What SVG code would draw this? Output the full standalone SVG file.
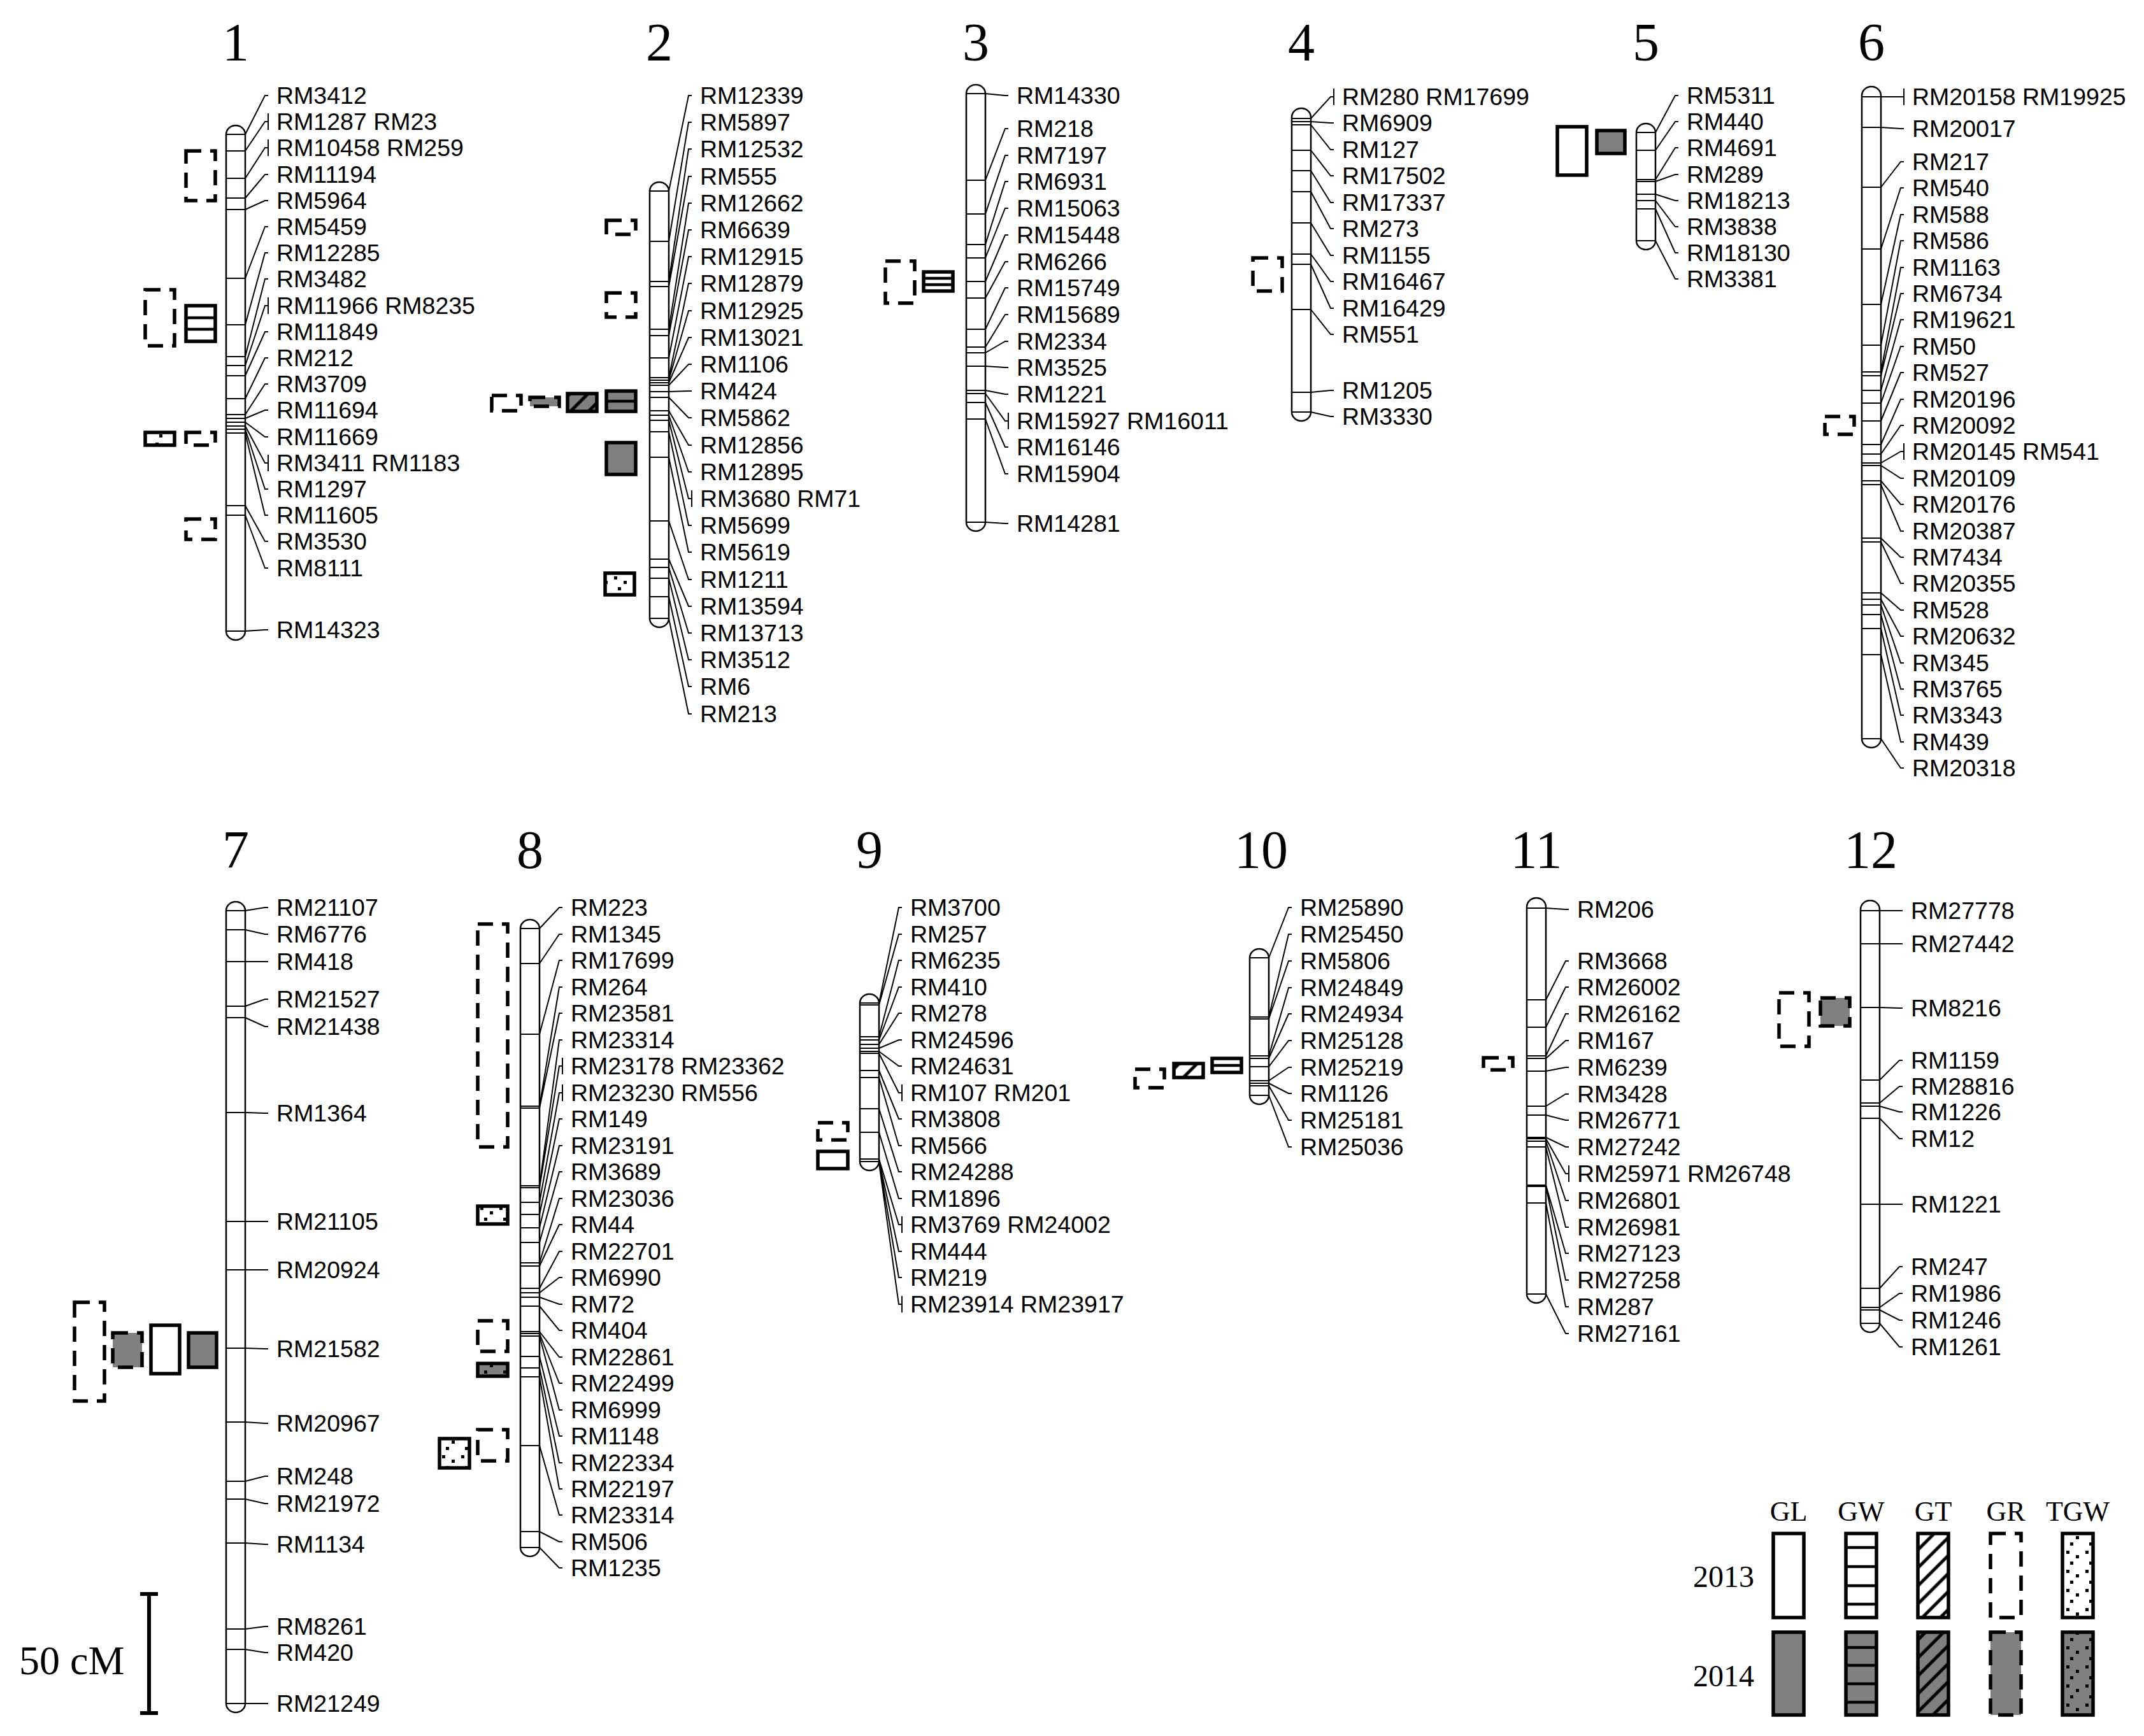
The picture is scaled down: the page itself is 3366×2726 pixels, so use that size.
<svg xmlns="http://www.w3.org/2000/svg" width="3366" height="2726" viewBox="0 0 3366 2726">
<style>
.bar{fill:#fff;stroke:#000;stroke-width:2.5}
.mk{stroke:#000;stroke-width:2;fill:none}
.ld{stroke:#000;stroke-width:2;fill:none}
.lab{font-family:"Liberation Sans",Arial,sans-serif;font-size:37.5px;fill:#000}
.ttl{font-family:"Liberation Serif","Times New Roman",serif;font-size:84px;text-anchor:middle;fill:#000}
.lg{font-family:"Liberation Serif","Times New Roman",serif;font-size:44px;text-anchor:middle;fill:#000}
.yr{font-family:"Liberation Serif","Times New Roman",serif;font-size:48px;text-anchor:end;fill:#000}
.q{stroke:#000;stroke-width:5.5}
.w{fill:#fff}
.g{fill:#808080}
.d{stroke-dasharray:24 14}
.gl{stroke:#000;stroke-width:4.5}
</style>
<defs>
<pattern id="hw" patternUnits="userSpaceOnUse" width="20" height="20" patternTransform="rotate(45)"><rect width="20" height="20" fill="#fff"/><line x1="10" y1="0" x2="10" y2="20" stroke="#000" stroke-width="5"/></pattern>
<pattern id="hg" patternUnits="userSpaceOnUse" width="20" height="20" patternTransform="rotate(45)"><rect width="20" height="20" fill="#808080"/><line x1="10" y1="0" x2="10" y2="20" stroke="#000" stroke-width="5"/></pattern>
<pattern id="dw" patternUnits="userSpaceOnUse" width="30" height="30"><rect width="30" height="30" fill="#fff"/><rect x="4" y="5" width="5" height="5"/><rect x="19" y="12" width="5" height="5"/><rect x="10" y="22" width="5" height="5"/></pattern>
<pattern id="dg" patternUnits="userSpaceOnUse" width="30" height="30"><rect width="30" height="30" fill="#808080"/><rect x="4" y="5" width="5" height="5"/><rect x="19" y="12" width="5" height="5"/><rect x="10" y="22" width="5" height="5"/></pattern>
</defs>
<rect width="3366" height="2726" fill="#fff"/>

<g id="titles">
<text class="ttl" x="370" y="95">1</text>
<text class="ttl" x="1035" y="95">2</text>
<text class="ttl" x="1532" y="95">3</text>
<text class="ttl" x="2043" y="95">4</text>
<text class="ttl" x="2584" y="95">5</text>
<text class="ttl" x="2938" y="95">6</text>
<text class="ttl" x="370" y="1363">7</text>
<text class="ttl" x="832" y="1363">8</text>
<text class="ttl" x="1365" y="1363">9</text>
<text class="ttl" x="1980" y="1363">10</text>
<text class="ttl" x="2412" y="1363">11</text>
<text class="ttl" x="2937" y="1363">12</text>
</g>

<g id="chr1">
<path class="bar" d="M355,211V991A15,14 0 0 0 385,991V211A15,14 0 0 0 355,211Z"/>
<path class="mk" d="M355,211H385M355,237H385M355,280H385M355,311H385M355,329H385M355,437H385M355,510H385M355,560H385M355,574H385M355,590H385M355,626H385M355,651H385M355,657H385M355,663H385M355,669H385M355,674H385M355,680H385M355,794H385M355,809H385M355,991H385"/>
<g class="lab">
<text x="434" y="163">RM3412</text><text x="434" y="204">RM1287 RM23</text><text x="434" y="245">RM10458 RM259</text><text x="434" y="287">RM11194</text><text x="434" y="328">RM5964</text><text x="434" y="369">RM5459</text><text x="434" y="410">RM12285</text><text x="434" y="451">RM3482</text><text x="434" y="493">RM11966 RM8235</text><text x="434" y="534">RM11849</text><text x="434" y="575">RM212</text><text x="434" y="616">RM3709</text><text x="434" y="657">RM11694</text><text x="434" y="699">RM11669</text><text x="434" y="740">RM3411 RM1183</text><text x="434" y="781">RM1297</text><text x="434" y="822">RM11605</text><text x="434" y="863">RM3530</text><text x="434" y="905">RM8111</text><text x="434" y="1002">RM14323</text>
</g>
<rect class="q d w" x="292" y="237" width="46" height="78"/>
<rect class="q d w" x="228" y="455" width="46" height="88"/>
<rect class="q w" x="292" y="480" width="46" height="56"/>
<path class="gl" d="M292,499H338M292,517H338"/>
<rect class="q" fill="url(#dw)" x="228" y="679" width="46" height="20"/>
<rect class="q d w" x="292" y="679" width="46" height="20"/>
<rect class="q d w" x="292" y="815" width="46" height="32"/>
</g>

<g id="chr2">
<path class="bar" d="M1020,300V971A15,14 0 0 0 1050,971V300A15,14 0 0 0 1020,300Z"/>
<path class="mk" d="M1020,300H1050M1020,379H1050M1020,442H1050M1020,450H1050M1020,517H1050M1020,527H1050M1020,562H1050M1020,593H1050M1020,597H1050M1020,601H1050M1020,605H1050M1020,615H1050M1020,624H1050M1020,645H1050M1020,652H1050M1020,660H1050M1020,678H1050M1020,718H1050M1020,818H1050M1020,878H1050M1020,891H1050M1020,908H1050M1020,937H1050M1020,971H1050"/>
<g class="lab">
<text x="1099" y="163">RM12339</text><text x="1099" y="205">RM5897</text><text x="1099" y="247">RM12532</text><text x="1099" y="290">RM555</text><text x="1099" y="332">RM12662</text><text x="1099" y="374">RM6639</text><text x="1099" y="416">RM12915</text><text x="1099" y="458">RM12879</text><text x="1099" y="501">RM12925</text><text x="1099" y="543">RM13021</text><text x="1099" y="585">RM1106</text><text x="1099" y="627">RM424</text><text x="1099" y="669">RM5862</text><text x="1099" y="712">RM12856</text><text x="1099" y="754">RM12895</text><text x="1099" y="796">RM3680 RM71</text><text x="1099" y="838">RM5699</text><text x="1099" y="880">RM5619</text><text x="1099" y="923">RM1211</text><text x="1099" y="965">RM13594</text><text x="1099" y="1007">RM13713</text><text x="1099" y="1049">RM3512</text><text x="1099" y="1091">RM6</text><text x="1099" y="1134">RM213</text>
</g>
<rect class="q d w" x="952" y="346" width="46" height="22"/>
<rect class="q d w" x="952" y="460" width="46" height="38"/>
<rect class="q d w" x="772" y="621" width="46" height="24"/>
<rect class="q d g" x="832" y="624" width="46" height="14"/>
<rect class="q" fill="url(#hg)" x="891" y="618" width="46" height="28"/>
<rect class="q g" x="952" y="614" width="46" height="32"/>
<path class="gl" d="M952,630H998"/>
<rect class="q g" x="952" y="695" width="46" height="50"/>
<rect class="q" fill="url(#dw)" x="950" y="900" width="46" height="34"/>
</g>

<g id="chr3">
<path class="bar" d="M1517,147V820A15,14 0 0 0 1547,820V147A15,14 0 0 0 1517,147Z"/>
<path class="mk" d="M1517,147H1547M1517,283H1547M1517,336H1547M1517,384H1547M1517,405H1547M1517,442H1547M1517,468H1547M1517,517H1547M1517,545H1547M1517,554H1547M1517,575H1547M1517,613H1547M1517,618H1547M1517,632H1547M1517,658H1547M1517,820H1547"/>
<g class="lab">
<text x="1596" y="163">RM14330</text><text x="1596" y="215">RM218</text><text x="1596" y="257">RM7197</text><text x="1596" y="298">RM6931</text><text x="1596" y="340">RM15063</text><text x="1596" y="382">RM15448</text><text x="1596" y="424">RM6266</text><text x="1596" y="465">RM15749</text><text x="1596" y="507">RM15689</text><text x="1596" y="549">RM2334</text><text x="1596" y="590">RM3525</text><text x="1596" y="632">RM1221</text><text x="1596" y="674">RM15927 RM16011</text><text x="1596" y="715">RM16146</text><text x="1596" y="757">RM15904</text><text x="1596" y="835">RM14281</text>
</g>
<rect class="q d w" x="1390" y="410" width="46" height="66"/>
<rect class="q w" x="1450" y="427" width="46" height="30"/>
<path class="gl" d="M1450,437H1496M1450,447H1496"/>
</g>

<g id="chr4">
<path class="bar" d="M2028,184V647A15,14 0 0 0 2058,647V184A15,14 0 0 0 2028,184Z"/>
<path class="mk" d="M2028,186H2058M2028,191H2058M2028,196H2058M2028,236H2058M2028,268H2058M2028,301H2058M2028,350H2058M2028,399H2058M2028,415H2058M2028,486H2058M2028,616H2058M2028,647H2058"/>
<g class="lab">
<text x="2107" y="165">RM280 RM17699</text><text x="2107" y="206">RM6909</text><text x="2107" y="248">RM127</text><text x="2107" y="289">RM17502</text><text x="2107" y="331">RM17337</text><text x="2107" y="372">RM273</text><text x="2107" y="414">RM1155</text><text x="2107" y="455">RM16467</text><text x="2107" y="497">RM16429</text><text x="2107" y="538">RM551</text><text x="2107" y="626">RM1205</text><text x="2107" y="667">RM3330</text>
</g>
<rect class="q d w" x="1967" y="405" width="46" height="52"/>
</g>

<g id="chr5">
<path class="bar" d="M2569,208V378A15,14 0 0 0 2599,378V208A15,14 0 0 0 2569,208Z"/>
<path class="mk" d="M2569,208H2599M2569,236H2599M2569,282H2599M2569,285H2599M2569,305H2599M2569,315H2599M2569,328H2599M2569,378H2599"/>
<g class="lab">
<text x="2648" y="163">RM5311</text><text x="2648" y="204">RM440</text><text x="2648" y="245">RM4691</text><text x="2648" y="287">RM289</text><text x="2648" y="328">RM18213</text><text x="2648" y="369">RM3838</text><text x="2648" y="410">RM18130</text><text x="2648" y="451">RM3381</text>
</g>
<rect class="q w" x="2445" y="199" width="46" height="76"/>
<rect class="q g" x="2507" y="205" width="44" height="36"/>
</g>

<g id="chr6">
<path class="bar" d="M2923,150V1160A15,14 0 0 0 2953,1160V150A15,14 0 0 0 2923,150Z"/>
<path class="mk" d="M2923,152H2953M2923,200H2953M2923,294H2953M2923,391H2953M2923,478H2953M2923,542H2953M2923,584H2953M2923,590H2953M2923,613H2953M2923,633H2953M2923,661H2953M2923,698H2953M2923,713H2953M2923,727H2953M2923,731H2953M2923,755H2953M2923,761H2953M2923,845H2953M2923,851H2953M2923,931H2953M2923,941H2953M2923,950H2953M2923,965H2953M2923,987H2953M2923,1028H2953M2923,1160H2953"/>
<g class="lab">
<text x="3002" y="165">RM20158 RM19925</text><text x="3002" y="215">RM20017</text><text x="3002" y="267">RM217</text><text x="3002" y="308">RM540</text><text x="3002" y="350">RM588</text><text x="3002" y="391">RM586</text><text x="3002" y="433">RM1163</text><text x="3002" y="474">RM6734</text><text x="3002" y="515">RM19621</text><text x="3002" y="557">RM50</text><text x="3002" y="598">RM527</text><text x="3002" y="640">RM20196</text><text x="3002" y="681">RM20092</text><text x="3002" y="722">RM20145 RM541</text><text x="3002" y="764">RM20109</text><text x="3002" y="805">RM20176</text><text x="3002" y="847">RM20387</text><text x="3002" y="888">RM7434</text><text x="3002" y="929">RM20355</text><text x="3002" y="971">RM528</text><text x="3002" y="1012">RM20632</text><text x="3002" y="1054">RM345</text><text x="3002" y="1095">RM3765</text><text x="3002" y="1136">RM3343</text><text x="3002" y="1178">RM439</text><text x="3002" y="1219">RM20318</text>
</g>
<rect class="q d w" x="2865" y="654" width="46" height="28"/>
</g>

<g id="chr7">
<path class="bar" d="M355,1430V2675A15,14 0 0 0 385,2675V1430A15,14 0 0 0 355,1430Z"/>
<path class="mk" d="M355,1430H385M355,1460H385M355,1510H385M355,1580H385M355,1598H385M355,1747H385M355,1918H385M355,1994H385M355,2117H385M355,2233H385M355,2326H385M355,2354H385M355,2423H385M355,2558H385M355,2590H385M355,2675H385"/>
<g class="lab">
<text x="434" y="1438">RM21107</text><text x="434" y="1480">RM6776</text><text x="434" y="1523">RM418</text><text x="434" y="1582">RM21527</text><text x="434" y="1625">RM21438</text><text x="434" y="1761">RM1364</text><text x="434" y="1931">RM21105</text><text x="434" y="2007">RM20924</text><text x="434" y="2131">RM21582</text><text x="434" y="2248">RM20967</text><text x="434" y="2331">RM248</text><text x="434" y="2374">RM21972</text><text x="434" y="2438">RM1134</text><text x="434" y="2567">RM8261</text><text x="434" y="2608">RM420</text><text x="434" y="2688">RM21249</text>
</g>
<rect class="q d w" x="117" y="2045" width="47" height="155"/>
<rect class="q d g" x="177" y="2093" width="46" height="54"/>
<rect class="q w" x="237" y="2081" width="45" height="76"/>
<rect class="q g" x="296" y="2093" width="44" height="54"/>
</g>

<g id="chr8">
<path class="bar" d="M817,1458V2430A15,14 0 0 0 847,2430V1458A15,14 0 0 0 817,1458Z"/>
<path class="mk" d="M817,1458H847M817,1513H847M817,1624H847M817,1737H847M817,1740H847M817,1862H847M817,1865H847M817,1888H847M817,1907H847M817,1928H847M817,1951H847M817,1983H847M817,1988H847M817,2023H847M817,2030H847M817,2037H847M817,2051H847M817,2091H847M817,2094H847M817,2098H847M817,2130H847M817,2148H847M817,2162H847M817,2270H847M817,2405H847M817,2430H847"/>
<g class="lab">
<text x="896" y="1438">RM223</text><text x="896" y="1480">RM1345</text><text x="896" y="1521">RM17699</text><text x="896" y="1563">RM264</text><text x="896" y="1604">RM23581</text><text x="896" y="1646">RM23314</text><text x="896" y="1687">RM23178 RM23362</text><text x="896" y="1729">RM23230 RM556</text><text x="896" y="1770">RM149</text><text x="896" y="1812">RM23191</text><text x="896" y="1853">RM3689</text><text x="896" y="1895">RM23036</text><text x="896" y="1936">RM44</text><text x="896" y="1978">RM22701</text><text x="896" y="2019">RM6990</text><text x="896" y="2061">RM72</text><text x="896" y="2102">RM404</text><text x="896" y="2144">RM22861</text><text x="896" y="2185">RM22499</text><text x="896" y="2227">RM6999</text><text x="896" y="2268">RM1148</text><text x="896" y="2310">RM22334</text><text x="896" y="2351">RM22197</text><text x="896" y="2392">RM23314</text><text x="896" y="2434">RM506</text><text x="896" y="2475">RM1235</text>
</g>
<rect class="q d w" x="750" y="1451" width="47" height="350"/>
<rect class="q" fill="url(#dw)" x="750" y="1894" width="47" height="28"/>
<rect class="q d w" x="750" y="2074" width="47" height="48"/>
<rect class="q" fill="url(#dg)" x="750" y="2141" width="47" height="20"/>
<rect class="q" fill="url(#dw)" x="690" y="2259" width="47" height="46"/>
<rect class="q d w" x="750" y="2245" width="47" height="49"/>
</g>

<g id="chr9">
<path class="bar" d="M1350,1575V1824A15,14 0 0 0 1380,1824V1575A15,14 0 0 0 1350,1575Z"/>
<path class="mk" d="M1350,1575H1380M1350,1578H1380M1350,1628H1380M1350,1633H1380M1350,1640H1380M1350,1646H1380M1350,1651H1380M1350,1654H1380M1350,1681H1380M1350,1692H1380M1350,1741H1380M1350,1778H1380M1350,1820H1380M1350,1824H1380"/>
<g class="lab">
<text x="1429" y="1438">RM3700</text><text x="1429" y="1480">RM257</text><text x="1429" y="1521">RM6235</text><text x="1429" y="1563">RM410</text><text x="1429" y="1604">RM278</text><text x="1429" y="1646">RM24596</text><text x="1429" y="1687">RM24631</text><text x="1429" y="1729">RM107 RM201</text><text x="1429" y="1770">RM3808</text><text x="1429" y="1812">RM566</text><text x="1429" y="1853">RM24288</text><text x="1429" y="1895">RM1896</text><text x="1429" y="1936">RM3769 RM24002</text><text x="1429" y="1978">RM444</text><text x="1429" y="2019">RM219</text><text x="1429" y="2061">RM23914 RM23917</text>
</g>
<rect class="q d w" x="1284" y="1763" width="47" height="27"/>
<rect class="q w" x="1284" y="1808" width="47" height="27"/>
</g>

<g id="chr10">
<path class="bar" d="M1962,1504V1720A15,14 0 0 0 1992,1720V1504A15,14 0 0 0 1962,1504Z"/>
<path class="mk" d="M1962,1504H1992M1962,1597H1992M1962,1600H1992M1962,1658H1992M1962,1662H1992M1962,1675H1992M1962,1697H1992M1962,1701H1992M1962,1705H1992M1962,1720H1992"/>
<g class="lab">
<text x="2041" y="1438">RM25890</text><text x="2041" y="1480">RM25450</text><text x="2041" y="1522">RM5806</text><text x="2041" y="1564">RM24849</text><text x="2041" y="1605">RM24934</text><text x="2041" y="1647">RM25128</text><text x="2041" y="1689">RM25219</text><text x="2041" y="1730">RM1126</text><text x="2041" y="1772">RM25181</text><text x="2041" y="1814">RM25036</text>
</g>
<rect class="q d w" x="1782" y="1679" width="46" height="29"/>
<rect class="q" fill="url(#hw)" x="1843" y="1670" width="46" height="22"/>
<rect class="q w" x="1903" y="1662" width="46" height="22"/>
<path class="gl" d="M1903,1673H1949"/>
</g>

<g id="chr11">
<path class="bar" d="M2397,1424V2032A15,14 0 0 0 2427,2032V1424A15,14 0 0 0 2397,1424Z"/>
<path class="mk" d="M2397,1426H2427M2397,1570H2427M2397,1613H2427M2397,1658H2427M2397,1662H2427M2397,1682H2427M2397,1737H2427M2397,1751H2427M2397,1786H2427M2397,1788H2427M2397,1792H2427M2397,1801H2427M2397,1861H2427M2397,1863H2427M2397,1889H2427M2397,2032H2427"/>
<g class="lab">
<text x="2476" y="1441">RM206</text><text x="2476" y="1522">RM3668</text><text x="2476" y="1563">RM26002</text><text x="2476" y="1605">RM26162</text><text x="2476" y="1647">RM167</text><text x="2476" y="1689">RM6239</text><text x="2476" y="1731">RM3428</text><text x="2476" y="1772">RM26771</text><text x="2476" y="1814">RM27242</text><text x="2476" y="1856">RM25971 RM26748</text><text x="2476" y="1898">RM26801</text><text x="2476" y="1940">RM26981</text><text x="2476" y="1981">RM27123</text><text x="2476" y="2023">RM27258</text><text x="2476" y="2065">RM287</text><text x="2476" y="2107">RM27161</text>
</g>
<rect class="q d w" x="2329" y="1661" width="46" height="19"/>
</g>

<g id="chr12">
<path class="bar" d="M2921,1428V2078A15,14 0 0 0 2951,2078V1428A15,14 0 0 0 2921,1428Z"/>
<path class="mk" d="M2921,1430H2951M2921,1482H2951M2921,1582H2951M2921,1696H2951M2921,1732H2951M2921,1737H2951M2921,1756H2951M2921,1891H2951M2921,2023H2951M2921,2053H2951M2921,2057H2951M2921,2078H2951"/>
<g class="lab">
<text x="3000" y="1443">RM27778</text><text x="3000" y="1495">RM27442</text><text x="3000" y="1596">RM8216</text><text x="3000" y="1678">RM1159</text><text x="3000" y="1719">RM28816</text><text x="3000" y="1759">RM1226</text><text x="3000" y="1801">RM12</text><text x="3000" y="1904">RM1221</text><text x="3000" y="2002">RM247</text><text x="3000" y="2044">RM1986</text><text x="3000" y="2086">RM1246</text><text x="3000" y="2128">RM1261</text>
</g>
<rect class="q d w" x="2793" y="1559" width="47" height="84"/>
<rect class="q d g" x="2858" y="1567" width="46" height="44"/>
</g>

<g id="connectors">
<path class="ld" d="M385,211L416,150H421M385,237L416,191H421M385,280L416,232H421M385,311L416,274H421M385,329L416,315H421M385,437L416,356H421M385,510L416,397H421M385,560L416,438H421M385,574L416,480H421M385,590L416,521H421M385,626L416,562H421M385,651L416,603H421M385,657L416,644H421M385,663L416,686H421M385,669L416,727H421M385,674L416,768H421M385,680L416,809H421M385,794L416,850H421M385,809L416,892H421M385,991L416,989H421M421,178V204M421,219V245M421,467V493M421,714V740"/>
<path class="ld" d="M1050,300L1081,150H1086M1050,379L1081,192H1086M1050,442L1081,234H1086M1050,450L1081,277H1086M1050,517L1081,319H1086M1050,527L1081,361H1086M1050,562L1081,403H1086M1050,593L1081,445H1086M1050,597L1081,488H1086M1050,601L1081,530H1086M1050,605L1081,572H1086M1050,615L1081,614H1086M1050,624L1081,656H1086M1050,645L1081,699H1086M1050,652L1081,741H1086M1050,660L1081,783H1086M1050,678L1081,825H1086M1050,718L1081,867H1086M1050,818L1081,910H1086M1050,878L1081,952H1086M1050,891L1081,994H1086M1050,908L1081,1036H1086M1050,937L1081,1078H1086M1050,971L1081,1121H1086M1086,770V796"/>
<path class="ld" d="M1547,147L1578,150H1583M1547,283L1578,202H1583M1547,336L1578,244H1583M1547,384L1578,285H1583M1547,405L1578,327H1583M1547,442L1578,369H1583M1547,468L1578,411H1583M1547,517L1578,452H1583M1547,545L1578,494H1583M1547,554L1578,536H1583M1547,575L1578,577H1583M1547,613L1578,619H1583M1547,618L1578,661H1583M1547,632L1578,702H1583M1547,658L1578,744H1583M1547,820L1578,822H1583M1583,648V674"/>
<path class="ld" d="M2058,186L2089,152H2094M2058,191L2089,193H2094M2058,196L2089,235H2094M2058,236L2089,276H2094M2058,268L2089,318H2094M2058,301L2089,359H2094M2058,350L2089,401H2094M2058,399L2089,442H2094M2058,415L2089,484H2094M2058,486L2089,525H2094M2058,616L2089,613H2094M2058,647L2089,654H2094M2094,139V165"/>
<path class="ld" d="M2599,208L2630,150H2635M2599,236L2630,191H2635M2599,282L2630,232H2635M2599,285L2630,274H2635M2599,305L2630,315H2635M2599,315L2630,356H2635M2599,328L2630,397H2635M2599,378L2630,438H2635"/>
<path class="ld" d="M2953,152L2984,152H2989M2953,200L2984,202H2989M2953,294L2984,254H2989M2953,391L2984,295H2989M2953,478L2984,337H2989M2953,542L2984,378H2989M2953,584L2984,420H2989M2953,590L2984,461H2989M2953,613L2984,502H2989M2953,633L2984,544H2989M2953,661L2984,585H2989M2953,698L2984,627H2989M2953,713L2984,668H2989M2953,727L2984,709H2989M2953,731L2984,751H2989M2953,755L2984,792H2989M2953,761L2984,834H2989M2953,845L2984,875H2989M2953,851L2984,916H2989M2953,931L2984,958H2989M2953,941L2984,999H2989M2953,950L2984,1041H2989M2953,965L2984,1082H2989M2953,987L2984,1123H2989M2953,1028L2984,1165H2989M2953,1160L2984,1206H2989M2989,139V165M2989,696V722"/>
<path class="ld" d="M385,1430L416,1425H421M385,1460L416,1467H421M385,1510L416,1510H421M385,1580L416,1569H421M385,1598L416,1612H421M385,1747L416,1748H421M385,1918L416,1918H421M385,1994L416,1994H421M385,2117L416,2118H421M385,2233L416,2235H421M385,2326L416,2318H421M385,2354L416,2361H421M385,2423L416,2425H421M385,2558L416,2554H421M385,2590L416,2595H421M385,2675L416,2675H421"/>
<path class="ld" d="M847,1458L878,1425H883M847,1513L878,1467H883M847,1624L878,1508H883M847,1737L878,1550H883M847,1740L878,1591H883M847,1862L878,1633H883M847,1865L878,1674H883M847,1888L878,1716H883M847,1907L878,1757H883M847,1928L878,1799H883M847,1951L878,1840H883M847,1983L878,1882H883M847,1988L878,1923H883M847,2023L878,1965H883M847,2030L878,2006H883M847,2037L878,2048H883M847,2051L878,2089H883M847,2091L878,2131H883M847,2094L878,2172H883M847,2098L878,2214H883M847,2130L878,2255H883M847,2148L878,2297H883M847,2162L878,2338H883M847,2270L878,2379H883M847,2405L878,2421H883M847,2430L878,2462H883M883,1661V1687M883,1703V1729"/>
<path class="ld" d="M1380,1575L1411,1425H1416M1380,1578L1411,1467H1416M1380,1628L1411,1508H1416M1380,1633L1411,1550H1416M1380,1640L1411,1591H1416M1380,1646L1411,1633H1416M1380,1651L1411,1674H1416M1380,1654L1411,1716H1416M1380,1681L1411,1757H1416M1380,1692L1411,1799H1416M1380,1741L1411,1840H1416M1380,1778L1411,1882H1416M1380,1820L1411,1923H1416M1380,1822L1411,1965H1416M1380,1824L1411,2006H1416M1380,1826L1411,2048H1416M1416,1703V1729M1416,1910V1936M1416,2035V2061"/>
<path class="ld" d="M1992,1504L2023,1425H2028M1992,1597L2023,1467H2028M1992,1600L2023,1509H2028M1992,1658L2023,1551H2028M1992,1662L2023,1592H2028M1992,1675L2023,1634H2028M1992,1697L2023,1676H2028M1992,1701L2023,1717H2028M1992,1705L2023,1759H2028M1992,1720L2023,1801H2028"/>
<path class="ld" d="M2427,1426L2458,1428H2463M2427,1570L2458,1509H2463M2427,1613L2458,1550H2463M2427,1658L2458,1592H2463M2427,1662L2458,1634H2463M2427,1682L2458,1676H2463M2427,1737L2458,1718H2463M2427,1751L2458,1759H2463M2427,1786L2458,1801H2463M2427,1788L2458,1843H2463M2427,1792L2458,1885H2463M2427,1801L2458,1927H2463M2427,1861L2458,1968H2463M2427,1863L2458,2010H2463M2427,1889L2458,2052H2463M2427,2032L2458,2094H2463M2463,1830V1856"/>
<path class="ld" d="M2951,1430L2982,1430H2987M2951,1482L2982,1482H2987M2951,1582L2982,1583H2987M2951,1696L2982,1665H2987M2951,1732L2982,1706H2987M2951,1737L2982,1746H2987M2951,1756L2982,1788H2987M2951,1891L2982,1891H2987M2951,2023L2982,1989H2987M2951,2053L2982,2031H2987M2951,2057L2982,2073H2987M2951,2078L2982,2115H2987"/>
</g>

<g id="scalebar">
<path d="M234,2503V2690M220,2503H248M220,2690H248" stroke="#000" stroke-width="6" fill="none"/>
<text x="30" y="2629" font-family="Liberation Serif, Times New Roman, serif" font-size="64">50 cM</text>
</g>

<g id="legend">
<text class="lg" x="2808" y="2388">GL</text>
<text class="lg" x="2922" y="2388">GW</text>
<text class="lg" x="3035" y="2388">GT</text>
<text class="lg" x="3149" y="2388">GR</text>
<text class="lg" x="3262" y="2388">TGW</text>
<text class="yr" x="2754" y="2492">2013</text>
<text class="yr" x="2754" y="2648">2014</text>
<rect class="q w" x="2784" y="2408" width="48" height="132"/>
<rect class="q w" x="2898" y="2408" width="48" height="132"/>
<path class="gl" d="M2898,2430H2946M2898,2460H2946M2898,2490H2946M2898,2519H2946"/>
<rect class="q" fill="url(#hw)" x="3011" y="2408" width="48" height="132"/>
<rect class="q d w" x="3125" y="2408" width="48" height="132"/>
<rect class="q" fill="url(#dw)" x="3238" y="2408" width="48" height="132"/>
<rect class="q g" x="2784" y="2563" width="48" height="130"/>
<rect class="q g" x="2898" y="2563" width="48" height="130"/>
<path class="gl" d="M2898,2587H2946M2898,2615H2946M2898,2644H2946M2898,2673H2946"/>
<rect class="q" fill="url(#hg)" x="3011" y="2563" width="48" height="130"/>
<rect class="q d g" x="3125" y="2563" width="48" height="130"/>
<rect class="q" fill="url(#dg)" x="3238" y="2563" width="48" height="130"/>
</g>
</svg>
